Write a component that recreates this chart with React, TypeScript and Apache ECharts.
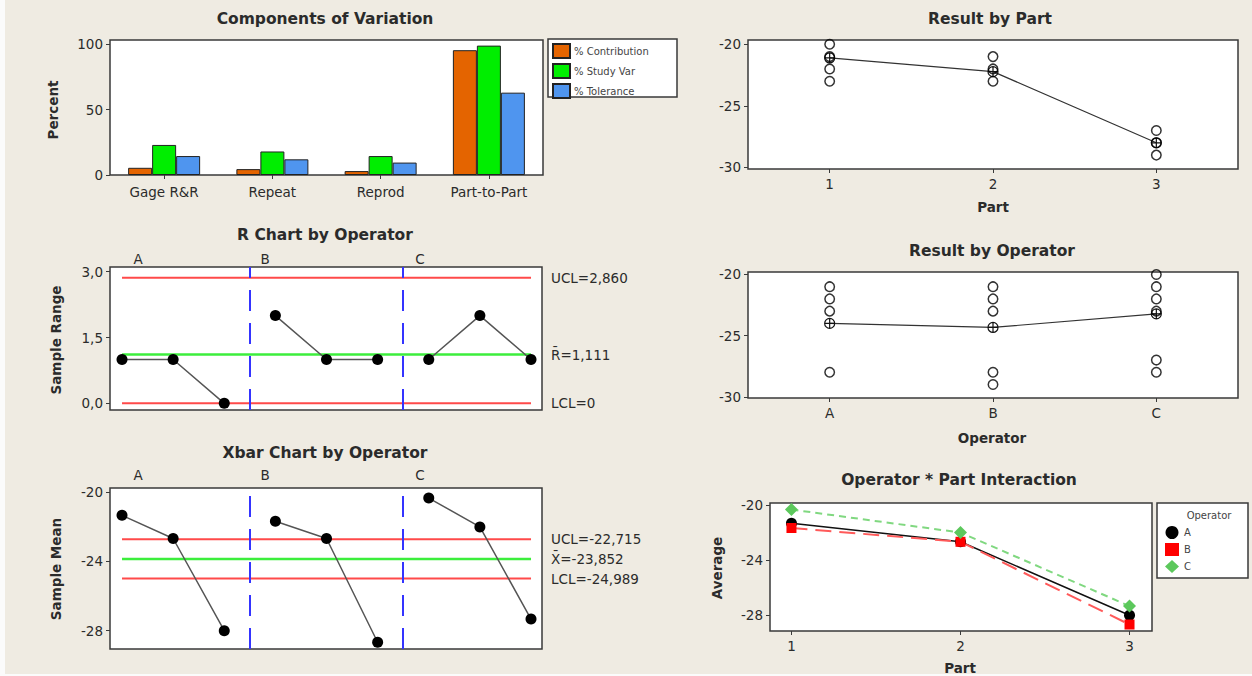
import { useEffect, useRef } from 'react';
import * as echarts from 'echarts';

// ---------- data ----------
const components = ['Gage R&R', 'Repeat', 'Reprod', 'Part-to-Part'];
const pctContribution = [5.5, 4.5, 3.0, 95.5];
const pctStudyVar = [23.0, 18.0, 14.5, 99.0];
const pctTolerance = [14.5, 12.0, 9.5, 63.0];

const operators = ['A', 'B', 'C'];
const parts = ['1', '2', '3'];

// R chart: 3 subgroups per operator (A, B, C)
const sampleRanges = [1, 1, 0, 2, 1, 1, 1, 2, 1];
const rUCL = 2.86;
const rBar = 1.111;
const rLCL = 0;

// Xbar chart
const sampleMeans = [-21.33, -22.67, -28.0, -21.67, -22.67, -28.67, -20.33, -22.0, -27.33];
const xUCL = -22.715;
const xBar = -23.852;
const xLCL = -24.989;

// Result by Part
const partObs = [
  [-20, -21, -22, -23],
  [-21, -22, -23],
  [-27, -28, -29],
];
const partMeans = [-21.11, -22.22, -28.0];

// Result by Operator
const operatorObs = [
  [-21, -22, -23, -28],
  [-21, -22, -23, -28, -29],
  [-20, -21, -22, -23, -27, -28],
];
const operatorMeans = [-24.0, -24.33, -23.22];

// Operator * Part interaction
const interactionA = [-21.33, -22.67, -28.0];
const interactionB = [-21.67, -22.67, -28.67];
const interactionC = [-20.33, -22.0, -27.33];

// ---------- styling ----------
const FONT = 'DejaVu Sans';
const TXT = '#2b2b2b';
const BG = '#efebe2';
const BORDER = '#3a3a3a';
const RED = '#ff4a4a';
const GREEN_LINE = '#3cee3c';
const BLUE_DASH = '#3434ff';

const comma = (v: number, d: number) => v.toFixed(d).replace('.', ',');

function gridBox(left: number, top: number, width: number, height: number) {
  return {
    left, top, width, height,
    show: true,
    backgroundColor: '#ffffff',
    borderColor: BORDER,
    borderWidth: 1.5,
    containLabel: false,
  };
}

function valueY(gridIndex: number, min: number, max: number, ticks: number[], fmt: (v: number) => string) {
  return {
    type: 'value', gridIndex, min, max,
    axisLine: { show: false },
    splitLine: { show: false },
    axisTick: { show: true, length: 4, customValues: ticks, lineStyle: { color: BORDER, width: 1 } },
    axisLabel: { customValues: ticks, formatter: fmt, color: TXT, fontSize: 13.5, fontFamily: FONT, margin: 7 },
  };
}

function hiddenX(gridIndex: number, min: number, max: number) {
  return {
    type: 'value', gridIndex, min, max,
    axisLine: { show: false }, axisTick: { show: false }, axisLabel: { show: false }, splitLine: { show: false },
  };
}

function catX(gridIndex: number, data: string[]) {
  return {
    type: 'category', gridIndex, data, boundaryGap: true,
    axisLine: { show: false },
    axisTick: { show: true, alignWithLabel: true, length: 4, lineStyle: { color: BORDER } },
    axisLabel: { color: TXT, fontSize: 13.5, fontFamily: FONT, margin: 8 },
    splitLine: { show: false },
  };
}

function txt(text: string, x: number, y: number, opts: any = {}) {
  return {
    type: 'text', x, y, rotation: opts.rotation || 0, z: 10,
    style: {
      text,
      fill: opts.fill || TXT,
      font: `${opts.bold ? 'bold ' : ''}${opts.size || 13.5}px "${FONT}"`,
      textAlign: opts.align || 'center',
      textVerticalAlign: 'middle',
    },
  };
}

function buildOption() {
  const sub = (arr: number[], op: number) =>
    arr.slice(op * 3, op * 3 + 3).map((v, i) => [op * 3 + i + 1, v]);
  const n = sampleRanges.length;

  const limitLine = (xi: number, yi: number, v: number, color: string, label: string, width = 2) => ({
    type: 'line', xAxisIndex: xi, yAxisIndex: yi,
    data: [[1, v], [n, v]],
    symbol: 'none', z: 2, silent: true,
    lineStyle: { color, width },
    endLabel: { show: true, formatter: label, distance: 20, color: TXT, fontSize: 13.5, fontFamily: FONT },
  });

  const subgroupSeries = (xi: number, yi: number, arr: number[], op: number) => ({
    type: 'line', name: `sg${xi}-${op}`, xAxisIndex: xi, yAxisIndex: yi,
    data: sub(arr, op), symbol: 'circle', symbolSize: 11, z: 5,
    itemStyle: { color: '#000' },
    lineStyle: { color: '#555', width: 1.5 },
  });

  const dividers = (xi: number, yi: number) => ({
    type: 'line', xAxisIndex: xi, yAxisIndex: yi, data: [], silent: true,
    markLine: {
      symbol: 'none', silent: true, label: { show: false },
      lineStyle: { color: BLUE_DASH, type: [21, 12], width: 2 },
      data: [{ xAxis: 3.5 }, { xAxis: 6.5 }],
    },
  });

  const meanSymbol = 'path://M10,5A5,5,0,1,1,0,5A5,5,0,1,1,10,5ZM0,5L10,5M5,0L5,10';

  const barStyle = (color: string) => ({ color, borderColor: '#222', borderWidth: 1 });

  return {
    animation: false,
    backgroundColor: BG,
    textStyle: { fontFamily: FONT },
    grid: [
      gridBox(110, 40, 433, 135),
      gridBox(110, 267, 432, 143),
      gridBox(110, 488, 432, 161),
      gridBox(748, 40, 490, 129),
      gridBox(748, 272, 490, 126),
      gridBox(770, 503, 382, 128),
    ],
    xAxis: [
      { ...catX(0, components), axisLabel: { color: TXT, fontSize: 13.5, fontFamily: FONT, margin: 10 } },
      hiddenX(1, 0.765, 9.215),
      hiddenX(2, 0.765, 9.215),
      catX(3, parts),
      catX(4, operators),
      {
        type: 'value', gridIndex: 5, min: 0.873, max: 3.133,
        axisLine: { show: false }, splitLine: { show: false },
        axisTick: { show: true, length: 4, customValues: [1, 2, 3], lineStyle: { color: BORDER } },
        axisLabel: { customValues: [1, 2, 3], color: TXT, fontSize: 13.5, fontFamily: FONT, margin: 8 },
      },
    ],
    yAxis: [
      valueY(0, 0, 103.3, [0, 50, 100], (v) => String(v)),
      valueY(1, -0.152, 3.107, [0, 1.5, 3], (v) => comma(v, 1)),
      valueY(2, -29.06, -19.75, [-28, -24, -20], (v) => String(v)),
      valueY(3, -30.13, -19.65, [-30, -25, -20], (v) => String(v)),
      valueY(4, -30.1, -19.8, [-30, -25, -20], (v) => String(v)),
      valueY(5, -29.14, -19.855, [-28, -24, -20], (v) => String(v)),
    ],
    legend: [
      {
        data: ['% Contribution', '% Study Var', '% Tolerance'],
        orient: 'vertical', left: 552, top: 43, icon: 'rect',
        itemWidth: 17, itemHeight: 14, itemGap: 4, padding: 0,
        textStyle: { fontSize: 10, color: '#444', fontFamily: FONT, padding: [0, 0, 0, -1] },
        selectedMode: false,
      },
      {
        data: [{ name: 'A', icon: 'circle' }, { name: 'B', icon: 'rect' }, { name: 'C', icon: 'diamond' }],
        orient: 'vertical', left: 1165, top: 526,
        itemWidth: 14, itemHeight: 13, itemGap: 4, padding: 0,
        textStyle: { fontSize: 10, color: '#444', fontFamily: FONT },
        selectedMode: false,
      },
    ],
    series: [
      // Components of variation
      { type: 'bar', name: '% Contribution', xAxisIndex: 0, yAxisIndex: 0, data: pctContribution, barWidth: 24, barGap: '0%', itemStyle: barStyle('#e46400') },
      { type: 'bar', name: '% Study Var', xAxisIndex: 0, yAxisIndex: 0, data: pctStudyVar, barWidth: 24, barGap: '0%', itemStyle: barStyle('#00ee00') },
      { type: 'bar', name: '% Tolerance', xAxisIndex: 0, yAxisIndex: 0, data: pctTolerance, barWidth: 24, barGap: '0%', itemStyle: barStyle('#4f95ef') },

      // R chart
      dividers(1, 1),
      limitLine(1, 1, rUCL, RED, `UCL=${comma(rUCL, 3)}`),
      limitLine(1, 1, rBar, GREEN_LINE, `R\u0304=${comma(rBar, 3)}`, 2.5),
      limitLine(1, 1, rLCL, RED, `LCL=${rLCL}`),
      subgroupSeries(1, 1, sampleRanges, 0),
      subgroupSeries(1, 1, sampleRanges, 1),
      subgroupSeries(1, 1, sampleRanges, 2),

      // Xbar chart
      dividers(2, 2),
      limitLine(2, 2, xUCL, RED, `UCL=${comma(xUCL, 3)}`),
      limitLine(2, 2, xBar, GREEN_LINE, `X\u0304=${comma(xBar, 3)}`, 2.5),
      limitLine(2, 2, xLCL, RED, `LCL=${comma(xLCL, 3)}`),
      subgroupSeries(2, 2, sampleMeans, 0),
      subgroupSeries(2, 2, sampleMeans, 1),
      subgroupSeries(2, 2, sampleMeans, 2),

      // Result by Part
      {
        type: 'line', name: 'partMean', xAxisIndex: 3, yAxisIndex: 3, data: partMeans,
        symbol: meanSymbol, symbolSize: 10, z: 3,
        itemStyle: { color: 'rgba(0,0,0,0)', borderColor: '#111', borderWidth: 1.2 },
        lineStyle: { color: '#333', width: 1.2 },
      },
      {
        type: 'scatter', name: 'partObs', xAxisIndex: 3, yAxisIndex: 3,
        data: partObs.flatMap((vals, i) => vals.map((v) => [i, v])),
        symbol: 'circle', symbolSize: 9.5, z: 4,
        itemStyle: { color: 'rgba(255,255,255,0)', borderColor: '#000', borderWidth: 1.5 },
      },

      // Result by Operator
      {
        type: 'line', name: 'opMean', xAxisIndex: 4, yAxisIndex: 4, data: operatorMeans,
        symbol: meanSymbol, symbolSize: 10, z: 3,
        itemStyle: { color: 'rgba(0,0,0,0)', borderColor: '#111', borderWidth: 1.2 },
        lineStyle: { color: '#333', width: 1.2 },
      },
      {
        type: 'scatter', name: 'opObs', xAxisIndex: 4, yAxisIndex: 4,
        data: operatorObs.flatMap((vals, i) => vals.map((v) => [i, v])),
        symbol: 'circle', symbolSize: 9.5, z: 4,
        itemStyle: { color: 'rgba(255,255,255,0)', borderColor: '#000', borderWidth: 1.5 },
      },

      // Interaction
      {
        type: 'line', name: 'A', xAxisIndex: 5, yAxisIndex: 5,
        data: interactionA.map((v, i) => [i + 1, v]),
        symbol: 'circle', symbolSize: 11, z: 5,
        itemStyle: { color: '#000' }, lineStyle: { color: '#111', width: 1.5 },
      },
      {
        type: 'line', name: 'B', xAxisIndex: 5, yAxisIndex: 5,
        data: interactionB.map((v, i) => [i + 1, v]),
        symbol: 'rect', symbolSize: 10, z: 5,
        itemStyle: { color: '#ff0000' }, lineStyle: { color: '#ff5a5a', width: 2, type: [16, 8] },
      },
      {
        type: 'line', name: 'C', xAxisIndex: 5, yAxisIndex: 5,
        data: interactionC.map((v, i) => [i + 1, v]),
        symbol: 'diamond', symbolSize: 13, z: 5,
        itemStyle: { color: '#5cc85c' }, lineStyle: { color: '#80d880', width: 2, type: [7, 5] },
      },
    ],
    graphic: [
      { type: 'rect', shape: { x: 0, y: 0, width: 5, height: 676 }, style: { fill: '#fbfbfb' }, z: 0 },
      { type: 'rect', shape: { x: 0, y: 674, width: 1252, height: 2 }, style: { fill: '#fbfbfb' }, z: 0 },
      // legend boxes
      { type: 'rect', shape: { x: 548, y: 39, width: 129, height: 58 }, style: { fill: '#fff', stroke: BORDER, lineWidth: 1.5 }, z: 0 },
      { type: 'rect', shape: { x: 1157, y: 503, width: 91, height: 75 }, style: { fill: '#fff', stroke: BORDER, lineWidth: 1.5 }, z: 0 },
      txt('Operator', 1209, 515, { size: 10, fill: '#444' }),
      // titles
      txt('Components of Variation', 325, 19, { bold: true, size: 15.5 }),
      txt('R Chart by Operator', 325, 235, { bold: true, size: 15.5 }),
      txt('Xbar Chart by Operator', 325, 453, { bold: true, size: 15.5 }),
      txt('Result by Part', 990, 19, { bold: true, size: 15.5 }),
      txt('Result by Operator', 992, 251, { bold: true, size: 15.5 }),
      txt('Operator * Part Interaction', 959, 480, { bold: true, size: 15.5 }),
      // axis names
      txt('Percent', 53, 110, { bold: true, size: 13.5, rotation: Math.PI / 2 }),
      txt('Sample Range', 56, 340, { bold: true, size: 13.5, rotation: Math.PI / 2 }),
      txt('Sample Mean', 56, 569, { bold: true, size: 13.5, rotation: Math.PI / 2 }),
      txt('Average', 717, 568, { bold: true, size: 13.5, rotation: Math.PI / 2 }),
      txt('Part', 993, 207, { bold: true, size: 13.5 }),
      txt('Operator', 992, 438, { bold: true, size: 13.5 }),
      txt('Part', 960, 668, { bold: true, size: 13.5 }),
      // operator group labels
      txt(operators[0], 138, 259), txt(operators[1], 265, 259), txt(operators[2], 420, 259),
      txt(operators[0], 138, 475), txt(operators[1], 265, 475), txt(operators[2], 420, 475),
    ],
  };
}

export default function App() {
  const ref = useRef<HTMLDivElement>(null);
  useEffect(() => {
    if (!ref.current) return;
    const chart = echarts.init(ref.current, null, { renderer: 'svg' });
    chart.setOption(buildOption() as any);
    return () => chart.dispose();
  }, []);
  return <div ref={ref} style={{ position: 'fixed', left: 0, top: 0, width: 1252, height: 676 }} />;
}
